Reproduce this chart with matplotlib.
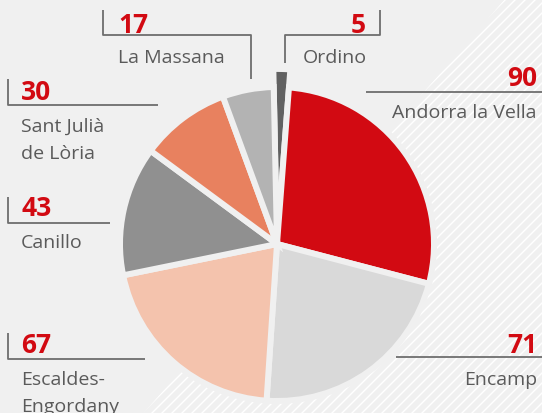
import matplotlib
matplotlib.use("Agg")
import matplotlib.pyplot as plt
from matplotlib.collections import LineCollection
from matplotlib.patches import Polygon
import numpy as np

# municipis d'Andorra (ordre horari des de dalt)
names = ["Ordino", "Andorra la Vella", "Encamp", "Escaldes-\nEngordany",
         "Canillo", "Sant Julià\nde Lòria", "La Massana"]
values = [5, 90, 71, 67, 43, 30, 17]
colors = ["#616161", "#d20a12", "#d9d9d9", "#f4c3ad", "#909090", "#e8815f", "#b3b3b3"]

W, H = 542, 414
BG = "#f0f0f0"
RED = "#d20a12"
GREY_TXT = "#5a5a5a"
LINE = "#6e6e6e"

fig = plt.figure(figsize=(W / 100, H / 100), dpi=100, facecolor=BG)
ax = fig.add_axes([0, 0, 1, 1])
ax.set_facecolor(BG)

def Y(y):
    # pixel from top -> data y
    return H - y

# fons ratllat en diagonal (zona inferior dreta)
region = Polygon([(505, Y(0)), (W + 50, Y(0)), (W + 50, Y(H + 50)), (100, Y(H + 50))],
                 closed=True, facecolor="none", edgecolor="none")
ax.add_patch(region)
segs = []
for c in np.arange(-W, H + W, 10):
    segs.append([(-50, -50 + c), (W + 50, W + 50 + c)])
hatch = LineCollection(segs, colors="white", linewidths=1.0, zorder=0)
ax.add_collection(hatch)
hatch.set_clip_path(region)

# pastis
cx, cy, R = 277, 245, 157
wedges, _ = ax.pie(values, colors=colors, startangle=91.2, counterclock=False,
                   center=(cx, Y(cy)), radius=R, frame=True,
                   wedgeprops=dict(edgecolor=BG, linewidth=4.3))
for w in wedges:
    w.set_zorder(2)
wedges[0].set_radius(R * 1.115)

# etiquetes: (index, x, baseline num, baseline text, alineacio)
labels = [
    (6, 118, 33, 63, "left"),
    (0, 366, 33, 63, "right"),
    (1, 537, 86, 118, "right"),
    (5, 21, 100, 132, "left"),
    (4, 21, 216, 248, "left"),
    (3, 21, 353, 385, "left"),
    (2, 537, 353, 385, "right"),
]
for i, x, yb_num, yb_txt, ha in labels:
    ax.text(x, Y(yb_num), str(values[i]), ha=ha, va="baseline", color=RED,
            fontsize=19, fontweight="bold", family="Open Sans", zorder=3)
    tx = x
    if i == 0:
        tx, ha = 303, "left"
    for k, line in enumerate(names[i].split("\n")):
        ax.text(tx, Y(yb_txt + 27 * k), line, ha=ha, va="baseline", color=GREY_TXT,
                fontsize=14, family="Open Sans", zorder=3)

# linies guia
guides = [
    [(103, 11), (103, 36), (251, 36), (251, 80)],
    [(380, 11), (380, 36), (285, 36), (285, 64)],
    [(366, 93), (542, 93)],
    [(8, 80), (8, 106), (158, 106)],
    [(8, 198), (8, 224), (110, 224)],
    [(8, 334), (8, 360), (145, 360)],
    [(396, 358), (542, 358)],
]
for g in guides:
    xs = [p[0] for p in g]
    ys = [Y(p[1]) for p in g]
    ax.plot(xs, ys, color=LINE, lw=1.3, solid_capstyle="butt", zorder=3)

ax.set_xlim(0, W)
ax.set_ylim(0, H)
ax.set_aspect("auto")
ax.axis("off")

fig.savefig("out.png", dpi=100, facecolor=BG)
